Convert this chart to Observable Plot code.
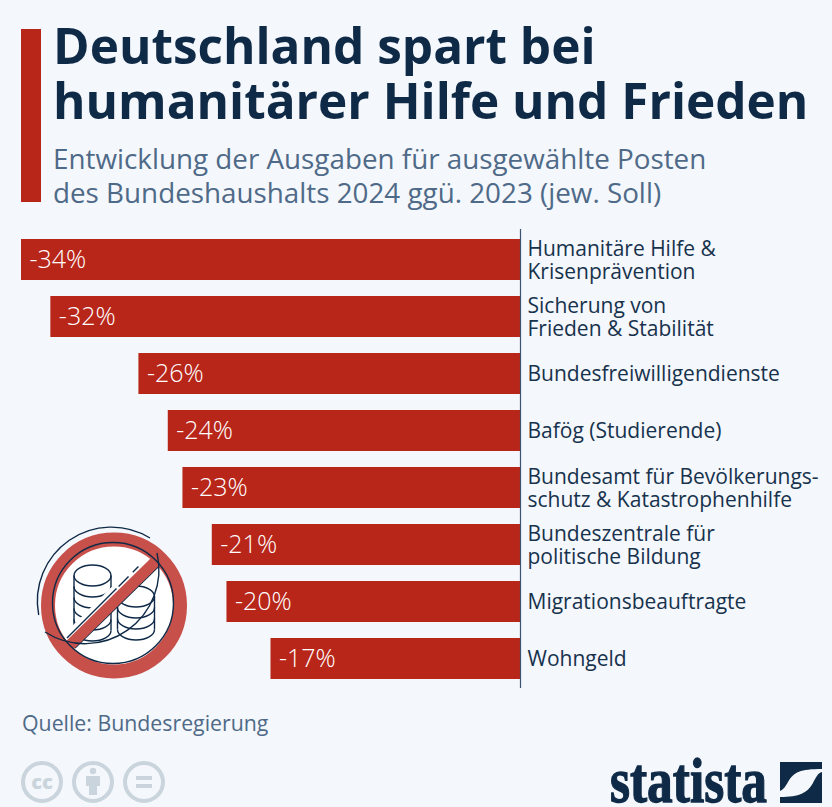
<!DOCTYPE html>
<html lang="de">
<head>
<meta charset="utf-8">
<script src="https://cdn.jsdelivr.net/npm/d3@7"></script>
<script src="https://cdn.jsdelivr.net/npm/@observablehq/plot@0.6"></script>
<style>
html,body{margin:0;padding:0;background:#f4f7fb;}
body{width:832px;height:807px;position:relative;overflow:hidden;font-family:"Open Sans",sans-serif;}
#bar{position:absolute;left:21px;top:29px;width:20px;height:173px;background:#b8261a;}
.t{position:absolute;white-space:nowrap;}
#title{left:53px;top:18px;font-size:49.500px;font-weight:700;line-height:55px;color:#0f2a47;}
#sub{left:53px;top:142px;font-size:27.800px;line-height:33.500px;color:#4f6a88;}
#chart{position:absolute;left:0;top:229px;}
#src{left:22px;top:708px;font-size:21.300px;color:#4f6a88;}
svg.o{position:absolute;left:0;top:0;pointer-events:none;}
</style>
</head>
<body>
<div id="bar"></div>
<div class="t" id="title">Deutschland spart bei<br>humanitärer Hilfe und Frieden</div>
<div class="t" id="sub">Entwicklung der Ausgaben für ausgewählte Posten<br>des Bundeshaushalts 2024 ggü. 2023 (jew. Soll)</div>
<div id="chart"></div>
<div class="t" id="src">Quelle: Bundesregierung</div>
<svg class="o" width="832" height="807" viewBox="0 0 832 807">
  <!-- coin icon -->
  <circle cx="114" cy="604" r="62" fill="#fff"/>
  <g fill="none" stroke="#0f2a47" stroke-width="1.400">
    <ellipse cx="92.500" cy="575.500" rx="18.500" ry="10.500"/>
    <path d="M74 575.500V630.500M111 575.500V630.500"/>
    <path d="M74 586.500A18.500 10.500 0 0 0 111 586.500M74 597.500A18.500 10.500 0 0 0 111 597.500M74 608.500A18.500 10.500 0 0 0 111 608.500M74 619.500A18.500 10.500 0 0 0 111 619.500M74 630.500A18.500 10.500 0 0 0 111 630.500"/>
    <ellipse cx="136" cy="596.500" rx="18.500" ry="10.500" fill="#fff"/>
    <path d="M117.500 596.500V629.500M154.500 596.500V629.500"/>
    <path d="M117.500 607.500A18.500 10.500 0 0 0 154.500 607.500M117.500 618.500A18.500 10.500 0 0 0 154.500 618.500M117.500 629.500A18.500 10.500 0 0 0 154.500 629.500"/>
  </g>
  <line x1="70" y1="640" x2="154" y2="557" stroke="#fff" stroke-width="17"/>
  <line x1="67" y1="638" x2="148" y2="557" stroke="#0f2a47" stroke-width="1.400" stroke-dasharray="70 3 14 6 8"/>
  <line x1="75" y1="648" x2="158" y2="567" stroke="#0f2a47" stroke-width="1.400"/>
  <line x1="68" y1="647" x2="159" y2="558" stroke="#c8504a" stroke-width="11"/>
  <circle cx="114" cy="605.500" r="66" fill="none" stroke="#c8504a" stroke-width="14"/>
  <circle cx="113" cy="603" r="60.500" fill="none" stroke="#0f2a47" stroke-width="1.400"/>
  <path d="M38.700 615A74 74 0 0 1 150 538" fill="none" stroke="#0f2a47" stroke-width="1.400"/>
  <path d="M157 553A74 74 0 0 1 45 632" fill="none" stroke="#0f2a47" stroke-width="1.400"/>
  <!-- licence icons -->
  <g fill="none" stroke="#c9d4dc" stroke-width="4">
    <circle cx="42" cy="782" r="19"/>
    <circle cx="93" cy="782" r="19"/>
    <circle cx="144" cy="782" r="19"/>
  </g>
  <text x="42" y="789" text-anchor="middle" font-family="Open Sans" font-weight="800" font-size="20" fill="#c9d4dc">cc</text>
  <g fill="#c9d4dc">
    <circle cx="93" cy="771" r="3.200"/>
    <path d="M86 776h14v10h-3v9h-8v-9h-3z"/>
    <rect x="136" y="776" width="16" height="4"/>
    <rect x="136" y="784" width="16" height="4"/>
  </g>
  <!-- logo -->
  <text x="610" y="802" font-family="Liberation Sans Narrow" font-weight="700" font-size="63" fill="#0f2a47" stroke="#0f2a47" stroke-width="1.300" textLength="157" lengthAdjust="spacingAndGlyphs">statista</text>
  <path d="M780 762h42v7c-22 0-28 3-34 13-3 5-4 7-8 9z" fill="#0f2a47"/>
  <path d="M822 772v31h-42v-6c20 0 27-4 33-14 3-6 5-10 9-11z" fill="#0f2a47"/>
</svg>
<script>
const categories = [
  "Humanitäre Hilfe &\nKrisenprävention",
  "Sicherung von\nFrieden & Stabilität",
  "Bundesfreiwilligendienste",
  "Bafög (Studierende)",
  "Bundesamt für Bevölkerungs-\nschutz & Katastrophenhilfe",
  "Bundeszentrale für\npolitische Bildung",
  "Migrationsbeauftragte",
  "Wohngeld"
];
const values = [-34, -32, -26, -24, -23, -21, -20, -17];
const rows = categories.map((c, i) => ({c, v: values[i]}));
const chart = Plot.plot({
  width: 832, height: 459,
  marginLeft: 21, marginRight: 312, marginTop: 8.5, marginBottom: 8,
  style: {background: "transparent", fontFamily: "'Open Sans',sans-serif", overflow: "visible"},
  x: {domain: [-34, 0], axis: null},
  y: {domain: categories, axis: null, paddingInner: 0.28, paddingOuter: 0},
  marks: [
    Plot.barX(rows, {x: "v", y: "c", fill: "#b8261a"}),
    Plot.ruleX([0], {stroke: "#3a5573", strokeWidth: 1.2, insetTop: -8.5, insetBottom: -8}),
    Plot.text(rows, {x: "v", y: "c", text: d => d.v + "%", textAnchor: "start", dx: 8, fill: "#fff", fontSize: 25, fontWeight: 300}),
    Plot.text(rows, {x: 0, y: "c", text: "c", textAnchor: "start", dx: 7, fill: "#17324d", fontSize: 21, lineHeight: 1.1})
  ]
});
document.getElementById("chart").append(chart);
</script>
</body>
</html>
